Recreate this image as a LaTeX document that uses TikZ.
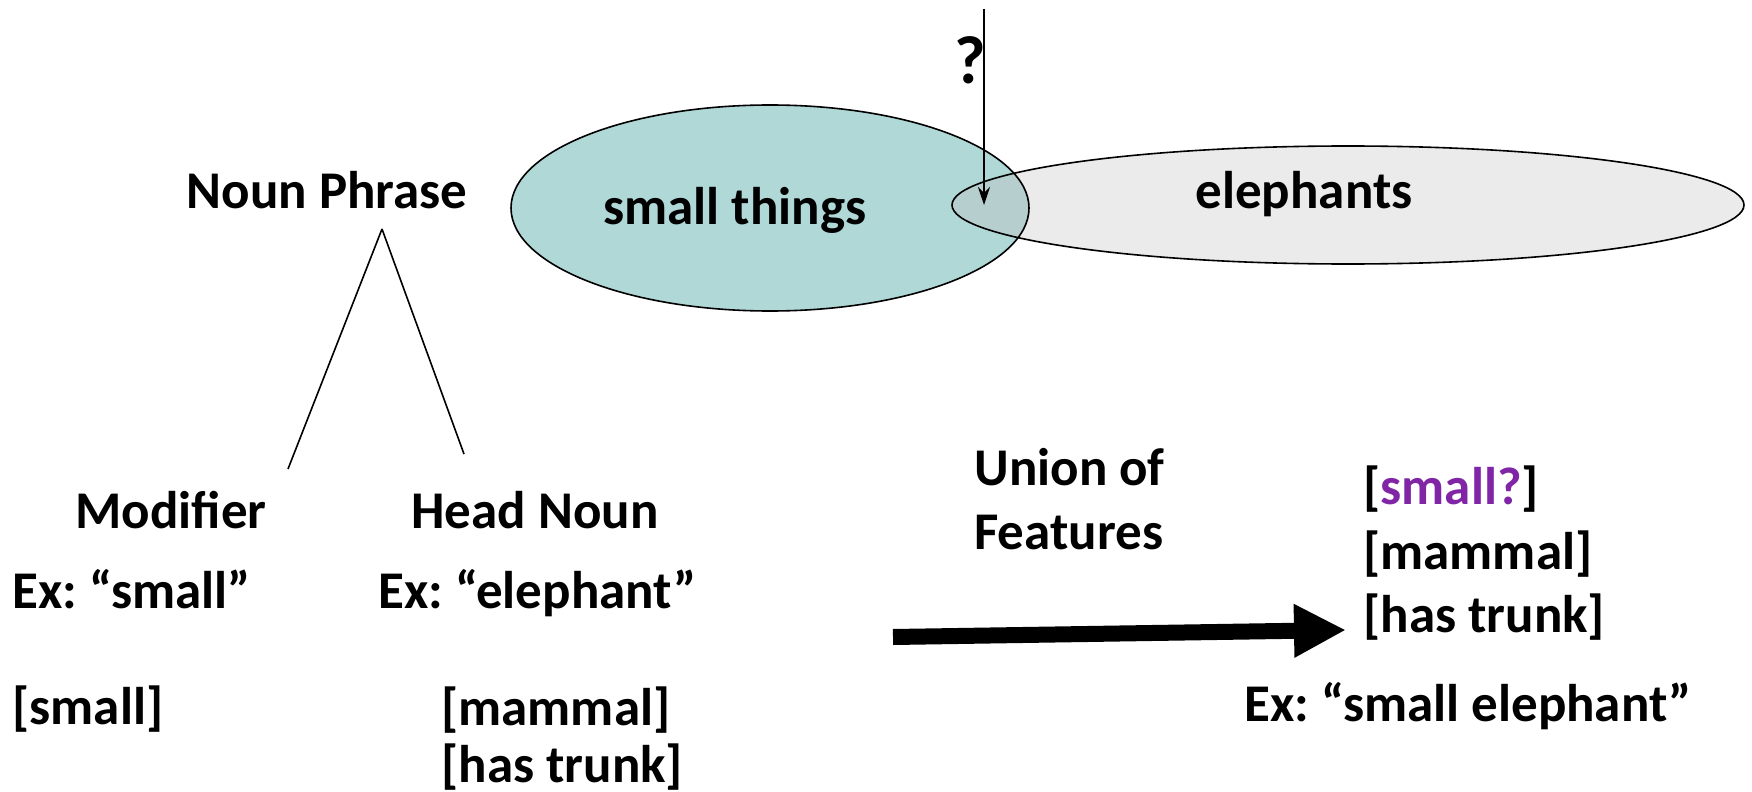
\documentclass[tikz,border=0pt]{standalone}
\usepackage{fontspec}
\setmainfont{Carlito}
\usetikzlibrary{arrows.meta}
\definecolor{tealfill}{HTML}{B0D8D6}
\definecolor{grayfill}{HTML}{EBEBEB}
\definecolor{overlapfill}{HTML}{B6CFCE}
\definecolor{purp}{HTML}{7F25A5}
\begin{document}
\frenchspacing
\begin{tikzpicture}[x=0.5pt,y=-0.5pt,
  txt/.style={font=\fontsize{26.5}{30}\selectfont\bfseries, inner sep=0pt, text height=0.72em, text depth=0.22em, yshift=-5pt},
  lbl/.style={txt, anchor=west},
  tree/.style={line width=0.8pt},
  outline/.style={draw=black, line width=0.8pt}]
\useasboundingbox (0,0) rectangle (1752,792);
% ellipses
\fill[tealfill] (770,208) ellipse [x radius=259, y radius=103];
\fill[grayfill] (1348,205) ellipse [x radius=396, y radius=59];
\begin{scope}
  \clip (1348,205) ellipse [x radius=396, y radius=59];
  \fill[overlapfill] (770,208) ellipse [x radius=259, y radius=103];
\end{scope}
\draw[outline] (770,208) ellipse [x radius=259, y radius=103];
\draw[outline] (1348,205) ellipse [x radius=396, y radius=59];
\node[txt] (small) at (735,209) {small things};
\node[txt] (eleph) at (1304,193) {elephants};
% question arrow
\node[txt, font=\fontsize{34}{38}\selectfont\bfseries] (q) at (970,69) {?};
\coordinate (qtop) at (984,9);
\coordinate (qtip) at (984,205);
\draw[line width=0.8pt, -{Stealth[length=9pt,width=6pt]}] (qtop) -- (qtip);
% tree
\node[txt] (np) at (327,193) {Noun Phrase};
\coordinate (apex) at (382,229);
\coordinate (lfoot) at (288,469);
\coordinate (rfoot) at (464,454);
\draw[tree] (apex) -- (lfoot);
\draw[tree] (apex) -- (rfoot);
\node[txt] (mod) at (171,513) {Modifier};
\node[txt] (head) at (535,513) {Head Noun};
\node[lbl] (exs) at (12,593) {Ex: “small”};
\node[lbl] (exe) at (378,593) {Ex: “elephant”};
\node[lbl] (fs) at (12,709) {[small]};
\node[lbl] (fm) at (441,710) {[mammal]};
\node[lbl] (ft) at (441,767) {[has trunk]};
% union
\node[lbl] (u1) at (974,470) {Union of};
\node[lbl] (u2) at (974,534) {Features};
\coordinate (bigstart) at (893,637);
\coordinate (bigend) at (1346,630);
\draw[line width=8pt, -{Triangle[length=26pt,width=25pt]}] (bigstart) -- (bigend);
\node[lbl] (r1) at (1363,489) {[\textcolor{purp}{small?}]};
\node[lbl] (r2) at (1363,554) {[mammal]};
\node[lbl] (r3) at (1363,617) {[has trunk]};
\node[lbl] (exse) at (1244,706) {Ex: “small elephant”};
\end{tikzpicture}
\end{document}
